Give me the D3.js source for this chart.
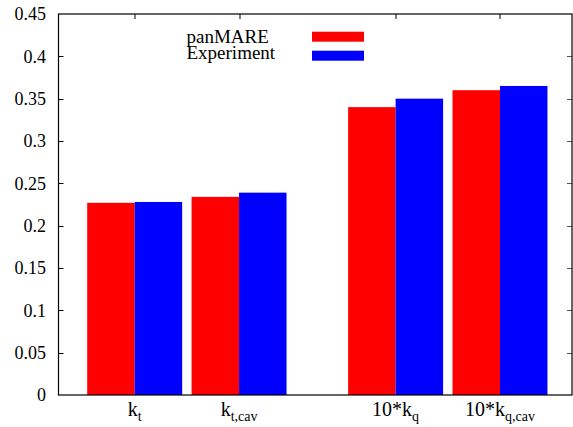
<!DOCTYPE html>
<html>
<head>
<meta charset="utf-8">
<script src="https://cdn.jsdelivr.net/npm/d3@7"></script>
<style>
  body { margin: 0; background: #fff; }
</style>
</head>
<body>
<div id="chart"></div>
<script>
// chart values
var categories = [
  { base: "k", sub: "t" },
  { base: "k", sub: "t,cav" },
  { base: "10*k", sub: "q" },
  { base: "10*k", sub: "q,cav" }
];
var seriesNames = ["panMARE", "Experiment"];
var panmare = [0.227, 0.234, 0.340, 0.360];
var experiment = [0.228, 0.239, 0.350, 0.365];
var yTicks = [0, 0.05, 0.1, 0.15, 0.2, 0.25, 0.3, 0.35, 0.4, 0.45];
var colors = ["#ff0000", "#0000ff"];

var svgWidth = 573;
var svgHeight = 427;
var margin = { top: 14, right: 1, bottom: 32, left: 58.5 };
var chartWidth = svgWidth - margin.left - margin.right;
var chartHeight = svgHeight - margin.top - margin.bottom;
var serif = "'Liberation Serif', 'DejaVu Serif', serif";

var svg = d3.select("#chart").append("svg")
  .attr("width", svgWidth)
  .attr("height", svgHeight)
  .attr("font-family", serif);

var chartGroup = svg.append("g")
  .attr("transform", `translate(${margin.left},${margin.top})`);

// slot of each group, with an extra half gap before the q group
var slot = (d, i) => i + (i >= 2 ? 0.5 : 0);

var xScale = d3.scaleLinear()
  .domain([-0.73, 4.19])
  .range([0, chartWidth]);
var yScale = d3.scaleLinear()
  .domain([0, 0.45])
  .range([chartHeight, 0]);

var barW = 0.455;

var series = [panmare, experiment];
series.forEach(function(vals, s) {
  chartGroup.selectAll(null)
    .data(vals)
    .enter()
    .append("rect")
    .attr("x", (d, i) => xScale(slot(d, i) + (s - 1) * barW))
    .attr("width", xScale(barW) - xScale(0))
    .attr("y", d => yScale(d))
    .attr("height", d => chartHeight - yScale(d))
    .attr("fill", colors[s]);
});

// y axis labels
chartGroup.selectAll(".ytick")
  .data(yTicks)
  .enter()
  .append("text")
  .attr("font-family", serif)
  .attr("x", -12.5)
  .attr("y", d => yScale(d))
  .attr("dy", "0.35em")
  .attr("text-anchor", "end")
  .attr("font-size", 18)
  .text(d => d);

chartGroup.selectAll(".ltick")
  .data(yTicks.slice(1, -1))
  .enter()
  .append("line")
  .attr("x1", 0).attr("x2", 5)
  .attr("y1", d => Math.round(yScale(d)) + 0.5)
  .attr("y2", d => Math.round(yScale(d)) + 0.5)
  .attr("stroke", "#000");

chartGroup.selectAll(".rtick")
  .data(yTicks.slice(1, -1))
  .enter()
  .append("line")
  .attr("x1", chartWidth).attr("x2", chartWidth - 5)
  .attr("y1", d => Math.round(yScale(d)) + 0.5)
  .attr("y2", d => Math.round(yScale(d)) + 0.5)
  .attr("stroke", "#555");

// top mirrored x ticks
chartGroup.selectAll(".ttick")
  .data(categories)
  .enter()
  .append("line")
  .attr("x1", (d, i) => Math.round(xScale(slot(d, i))) + 0.5)
  .attr("x2", (d, i) => Math.round(xScale(slot(d, i))) + 0.5)
  .attr("y1", 0).attr("y2", 5)
  .attr("stroke", "#000");

// frame
chartGroup.append("rect")
  .attr("x", 0).attr("y", 0)
  .attr("width", chartWidth)
  .attr("height", chartHeight)
  .attr("fill", "none")
  .attr("stroke", "#000")
  .attr("stroke-width", 1.2);

// x labels with subscripts
var xl = chartGroup.selectAll(".xlabel")
  .data(categories)
  .enter()
  .append("text")
  .attr("font-family", serif)
  .attr("x", (d, i) => xScale(slot(d, i)))
  .attr("y", chartHeight + 20.5)
  .attr("text-anchor", "middle")
  .attr("font-size", 20);
xl.append("tspan").text(d => d.base);
xl.append("tspan")
  .attr("dy", 5)
  .attr("font-size", 14)
  .text(d => d.sub);

// legend
var legend = chartGroup.append("g");
seriesNames.forEach(function(name, s) {
  legend.append("text")
    .attr("font-family", serif)
    .attr("x", 128)
    .attr("y", 28.7 + s * 16.6)
    .attr("font-size", 19)
    .text(name);
  legend.append("rect")
    .attr("x", 253.5)
    .attr("y", 17.7 + s * 19)
    .attr("width", 52)
    .attr("height", 10)
    .attr("fill", colors[s]);
});
</script>
</body>
</html>
